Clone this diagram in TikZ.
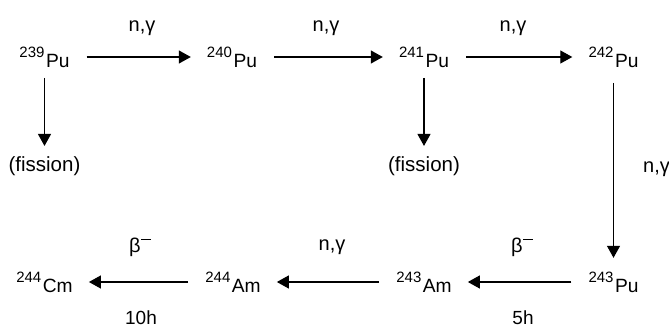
\documentclass[tikz,border=0pt]{standalone}
\usepackage{fontspec}
\setmainfont{Liberation Sans}
\usetikzlibrary{arrows.meta}
\newcommand\nuc[2]{\raisebox{10.5pt}{\fontsize{15}{15}\selectfont #1}\kern1.5pt #2}
\newcommand\betam{β\kern0.5pt\raisebox{13pt}{\rule{10pt}{1.1pt}}}
\tikzset{
  nucl/.style={inner sep=0pt, anchor=base, font=\fontsize{19.2}{20}\selectfont},
  lbl/.style={inner sep=0pt, anchor=base, font=\fontsize{20}{22}\selectfont},
  fis/.style={inner sep=0pt, anchor=base, font=\fontsize{20.5}{22}\selectfont},
  tim/.style={inner sep=0pt, anchor=base, font=\fontsize{19}{22}\selectfont},
  arr/.style={line width=1.2pt, -{Triangle[length=12pt,width=13pt]}},
  harr/.style={arr, shorten <=17pt, shorten >=16pt},
}
\begin{document}
\begin{tikzpicture}[x=1pt,y=-1pt]
\clip (0,0) rectangle (669,328);
% top row
\node[nucl] (pu239) at (44.5,68) {\nuc{239}{Pu}};
\node[nucl] (pu240) at (232,68) {\nuc{240}{Pu}};
\node[nucl] (pu241) at (424,68) {\nuc{241}{Pu}};
\node[nucl] (pu242) at (613.5,68) {\nuc{242}{Pu}};
% fission
\node[fis] (fis1) at (44.5,172) {(fission)};
\node[fis] (fis2) at (424,172) {(fission)};
% bottom row
\node[nucl] (cm244) at (44.5,293) {\nuc{244}{Cm}};
\node[nucl] (am244) at (233,293) {\nuc{244}{Am}};
\node[nucl] (am243) at (424,293) {\nuc{243}{Am}};
\node[nucl] (pu243) at (613.5,293) {\nuc{243}{Pu}};
% top arrows
\draw[harr] ([yshift=11pt]pu239.base east) -- ([yshift=11pt]pu240.base west);
\draw[harr] ([yshift=11pt]pu240.base east) -- ([yshift=11pt]pu241.base west);
\draw[harr] ([yshift=11pt]pu241.base east) -- ([yshift=11pt]pu242.base west);
% top labels
\node[lbl] (l1) at (142,32) {n,γ};
\node[lbl] (l2) at (326,32) {n,γ};
\node[lbl] (l3) at (513,32) {n,γ};
% vertical arrows
\draw[arr, shorten <=10pt, shorten >=11pt] (pu239.base) -- (fis1.north);
\draw[arr, shorten <=10pt, shorten >=11pt] (pu241.base) -- (fis2.north);
\draw[arr, shorten <=15pt, shorten >=14pt] (pu242.base) -- (pu243.north);
\node[lbl, anchor=base west] (l4) at (643,173) {n,γ};
% bottom arrows
\draw[harr] ([yshift=11pt]pu243.base west) -- ([yshift=11pt]am243.base east);
\draw[harr] ([yshift=11pt]am243.base west) -- ([yshift=11pt]am244.base east);
\draw[harr] ([yshift=11pt]am244.base west) -- ([yshift=11pt]cm244.base east);
% bottom labels
\node[lbl] (b1) at (140,253) {\betam};
\node[lbl] (b2) at (332,251) {n,γ};
\node[lbl] (b3) at (522,253) {\betam};
\node[tim] (t1) at (141,325) {10h};
\node[tim] (t2) at (523,325) {5h};
\end{tikzpicture}
\end{document}
